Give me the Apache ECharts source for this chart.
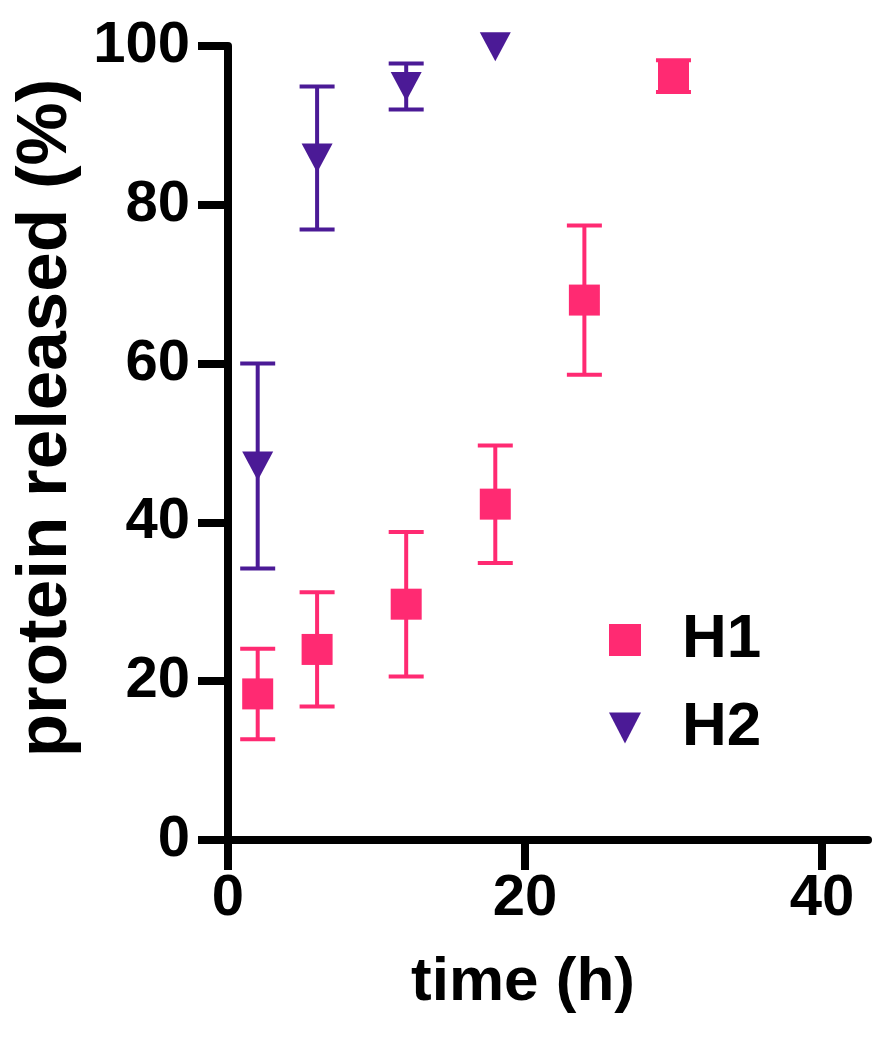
<!DOCTYPE html>
<html>
<head>
<meta charset="utf-8">
<script src="https://cdn.jsdelivr.net/npm/echarts@6/dist/echarts.min.js"></script>
<style>
  html, body { margin: 0; padding: 0; background: #fff; }
  #chart { width: 894px; height: 1050px; }
</style>
</head>
<body>
<div id="chart"></div>
<script>
// time points (h)
const h1Time = [2, 6, 12, 18, 24, 30];
const h1Mean = [18.4, 24.0, 29.7, 42.3, 68.0, 96.2];
const h1Sd = [5.7, 7.2, 9.1, 7.4, 9.4, 2.0];

const h2Time = [2, 6, 12, 18];
const h2Mean = [47.1, 85.9, 94.9, 99.9];
const h2Sd = [12.9, 9.0, 2.9, 0];

const xTicks = [0, 20, 40];
const yTicks = [0, 20, 40, 60, 80, 100];

const pink = '#ff2a72';
const purple = '#4b1a96';
const font = '"Liberation Sans", Arial, Helvetica, sans-serif';

const chart = echarts.init(document.getElementById('chart'));

function errRows(t, m, s) {
    return t.map((x, i) => [x, m[i] - s[i], m[i] + s[i], s[i]]);
}

function errorBar(color) {
    return function (params, api) {
        if (api.value(3) === 0) return null;
        const lo = api.coord([api.value(0), api.value(1)]);
        const hi = api.coord([api.value(0), api.value(2)]);
        const half = 17.5;
        const style = { stroke: color, lineWidth: 4 };
        return {
            type: 'group',
            children: [
                { type: 'line', shape: { x1: lo[0], y1: lo[1], x2: hi[0], y2: hi[1] }, style: style },
                { type: 'line', shape: { x1: lo[0] - half, y1: lo[1], x2: lo[0] + half, y2: lo[1] }, style: style },
                { type: 'line', shape: { x1: hi[0] - half, y1: hi[1], x2: hi[0] + half, y2: hi[1] }, style: style }
            ]
        };
    };
}

const axisCommon = {
    axisLine: { show: true, lineStyle: { color: '#000', width: 8 } },
    axisTick: { show: true, length: 30, lineStyle: { color: '#000', width: 8 } },
    splitLine: { show: false },
    axisLabel: { color: '#000', fontSize: 58, fontWeight: 'bold', fontFamily: font }
};

chart.setOption({
    animation: false,
    backgroundColor: '#fff',
    grid: { left: 228, right: 26, top: 46, bottom: 210 },
    legend: {
        orient: 'vertical',
        left: 604,
        top: 604,
        itemWidth: 32,
        itemHeight: 32,
        itemGap: 26,
        symbolRotate: 0,
        textStyle: {
            color: '#000', fontSize: 62, fontWeight: 'bold', fontFamily: font,
            lineHeight: 60, padding: [0, 0, 0, 36]
        },
        data: [
            { name: 'H1', icon: 'rect' },
            { name: 'H2', icon: 'path://M0,0L31,0L15.5,30Z' }
        ]
    },
    xAxis: Object.assign({}, axisCommon, {
        type: 'value',
        min: 0,
        max: 43.1,
        interval: 20,
        axisTick: Object.assign({}, axisCommon.axisTick, { customValues: xTicks }),
        axisLabel: Object.assign({}, axisCommon.axisLabel, { margin: 30, customValues: xTicks }),
        name: 'time (h)',
        nameLocation: 'middle',
        nameGap: 112,
        nameTextStyle: {
            color: '#000', fontSize: 62, fontWeight: 'bold', fontFamily: font,
            padding: [0, 50, 0, 0]
        }
    }),
    yAxis: Object.assign({}, axisCommon, {
        type: 'value',
        min: 0,
        max: 100,
        interval: 20,
        axisTick: Object.assign({}, axisCommon.axisTick, { customValues: yTicks }),
        axisLabel: Object.assign({}, axisCommon.axisLabel, { margin: 38, customValues: yTicks }),
        name: 'protein released (%)',
        nameLocation: 'middle',
        nameGap: 134,
        nameTextStyle: {
            color: '#000', fontSize: 71, fontWeight: 'bold', fontFamily: font,
            padding: [0, 0, 0, 50]
        }
    }),
    series: [
        {
            name: 'H1 error',
            type: 'custom',
            renderItem: errorBar(pink),
            data: errRows(h1Time, h1Mean, h1Sd),
            encode: { x: 0, y: [1, 2] },
            z: 1
        },
        {
            name: 'H2 error',
            type: 'custom',
            renderItem: errorBar(purple),
            data: errRows(h2Time, h2Mean, h2Sd),
            encode: { x: 0, y: [1, 2] },
            z: 1
        },
        {
            name: 'H1',
            type: 'scatter',
            symbol: 'rect',
            symbolSize: 31,
            itemStyle: { color: pink, opacity: 1 },
            data: h1Time.map((t, i) => [t, h1Mean[i]]),
            z: 3
        },
        {
            name: 'H2',
            type: 'scatter',
            symbol: 'path://M0,0L31,0L15.5,30Z',
            symbolSize: [31, 29],
            itemStyle: { color: purple, opacity: 1 },
            data: h2Time.map((t, i) => [t, h2Mean[i]]),
            z: 3
        }
    ]
});
</script>
</body>
</html>
